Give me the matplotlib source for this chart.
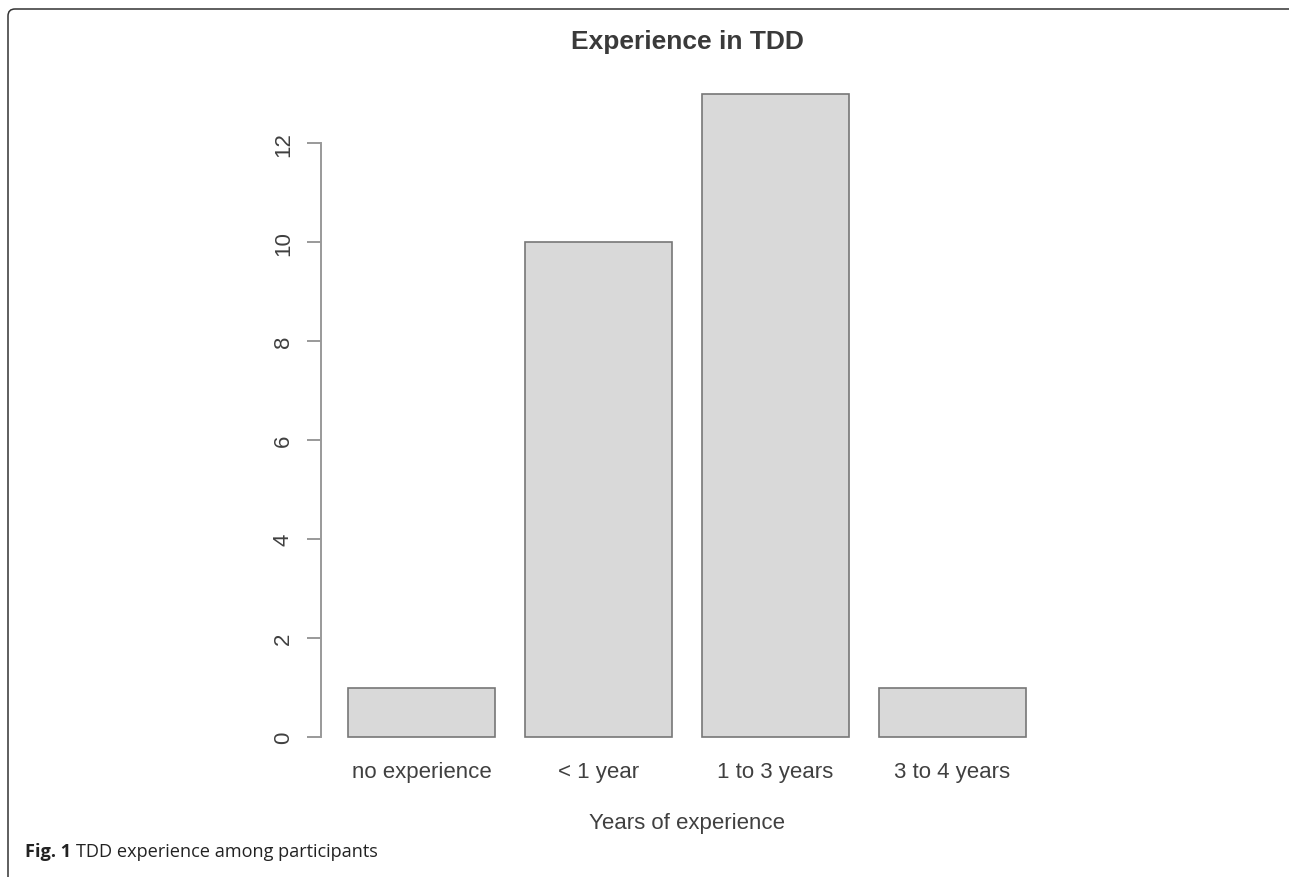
import matplotlib
matplotlib.use('Agg')
import matplotlib.pyplot as plt
from matplotlib.patches import FancyBboxPatch
from matplotlib.transforms import IdentityTransform

categories = ['no experience', '< 1 year', '1 to 3 years', '3 to 4 years']
counts = [1, 10, 13, 1]
yticks = [0, 2, 4, 6, 8, 10, 12]

plt.rcParams['font.family'] = ['Liberation Sans', 'DejaVu Sans']
txt = '#404040'

fig = plt.figure(figsize=(12.89, 8.78), dpi=100)
ax = fig.add_axes([0.249, 0.130, 0.568, 0.7916])

# R barplot style: width 1, space 0.2
pos = [0.7 + 1.2 * i for i in range(len(counts))]
ax.bar(pos, counts, width=1.0, color='#d9d9d9', edgecolor='#777777', linewidth=1.2)

ax.set_xlim(0.016, 4.984)
ax.set_ylim(-0.52, 13.52)

for s in ['top', 'right', 'bottom']:
    ax.spines[s].set_visible(False)
ax.spines['left'].set_bounds(0, 12)
ax.spines['left'].set_color('#999999')
ax.spines['left'].set_linewidth(1.4)

ax.set_yticks(yticks)
ax.set_yticklabels([str(v) for v in yticks], rotation=90, va='center')
ax.tick_params(axis='y', length=10, width=1.2, color='#888888', labelsize=16,
               labelcolor=txt, pad=9.5)

ax.set_xticks(pos)
ax.set_xticklabels(categories)
ax.tick_params(axis='x', length=0, labelsize=16, labelcolor=txt, pad=-1.5)

ax.set_xlabel('Years of experience', fontsize=16, color=txt, labelpad=22)
ax.set_title('Experience in TDD', fontsize=19, fontweight='bold', color='#3a3a3a', pad=14)

# figure frame (top and left edge with rounded corner)
frame = FancyBboxPatch((8, -30), 1320, 878 - 10 + 30, boxstyle='round,pad=0,rounding_size=7',
                       transform=IdentityTransform(), facecolor='none',
                       edgecolor='#333333', linewidth=1.1)
fig.add_artist(frame)

cap_font = ['Open Sans', 'DejaVu Sans']
t1 = fig.text(25 / 1289, 1 - 861 / 878, 'Fig. 1', fontsize=13.1, fontweight='bold',
              family=cap_font, color='#222222', va='bottom')
fig.add_artist(plt.Annotation('TDD experience among participants', xy=(1, 0), xycoords=t1,
                              xytext=(3.5, 0), textcoords='offset points', fontsize=13.1,
                              family=cap_font, color='#222222', va='bottom', ha='left'))

fig.savefig('out.png', dpi=100)
